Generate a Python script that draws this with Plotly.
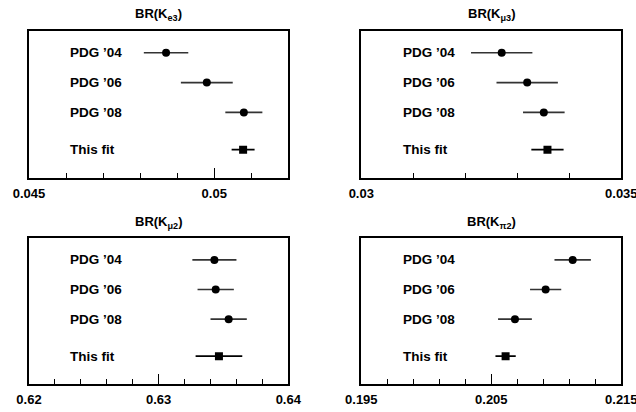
import plotly.graph_objects as go

# ---------------- data ----------------
row_labels = ["PDG ’04", "PDG ’06", "PDG ’08", "This fit"]
row_pos = [4, 3, 2, 0.75]

titles = ["BR(K<sub>e3</sub>)", "BR(K<sub>μ3</sub>)", "BR(K<sub>μ2</sub>)", "BR(K<sub>π2</sub>)"]

ke3_pdg = [0.0487, 0.0498, 0.0508]
ke3_pdg_err = [0.0006, 0.0007, 0.0005]
ke3_fit = [0.05078]
ke3_fit_err = [0.00031]

kmu3_pdg = [0.0327, 0.03319, 0.03351]
kmu3_pdg_err = [0.00059, 0.00059, 0.0004]
kmu3_fit = [0.03358]
kmu3_fit_err = [0.00031]

kmu2_pdg = [0.6343, 0.6344, 0.6354]
kmu2_pdg_err = [0.0017, 0.0014, 0.0014]
kmu2_fit = [0.63465]
kmu2_fit_err = [0.0018]

kpi2_pdg = [0.21126, 0.20918, 0.20682]
kpi2_pdg_err = [0.0014, 0.0012, 0.0013]
kpi2_fit = [0.2061]
kpi2_fit_err = [0.00078]

x_ranges = [[0.045, 0.052], [0.030, 0.035], [0.62, 0.64], [0.195, 0.215]]
tick_vals = [[0.045, 0.05], [0.03, 0.035], [0.62, 0.63, 0.64], [0.195, 0.205, 0.215]]
tick_text = [["0.045", "0.05"], ["0.03", "0.035"], ["0.62", "0.63", "0.64"], ["0.195", "0.205", "0.215"]]
minor_dt = [0.001, 0.001, 0.002, 0.002]

panels = [
    (ke3_pdg, ke3_pdg_err, ke3_fit, ke3_fit_err),
    (kmu3_pdg, kmu3_pdg_err, kmu3_fit, kmu3_fit_err),
    (kmu2_pdg, kmu2_pdg_err, kmu2_fit, kmu2_fit_err),
    (kpi2_pdg, kpi2_pdg_err, kpi2_fit, kpi2_fit_err),
]

# ---------------- layout geometry ----------------
W, H = 636, 412
x_doms = [[29 / W, 288.3 / W], [361.3 / W, 621.3 / W]]
y_doms = [[1 - 178 / H, 1 - 31 / H], [1 - 384.3 / H, 1 - 238.3 / H]]

FONT = "Liberation Sans, Arial, Helvetica, sans-serif"
ERR_COLOR = "#333333"

fig = go.Figure()
layout = dict(
    template="none",
    width=W, height=H, autosize=False,
    margin=dict(l=0, r=0, t=0, b=0, pad=0),
    paper_bgcolor="white", plot_bgcolor="white",
    showlegend=False,
    font=dict(family=FONT, color="black"),
)
annotations = []

for i, (pdg, pdg_err, fit, fit_err) in enumerate(panels):
    col = i % 2
    row = i // 2
    xa = "x" if i == 0 else f"x{i+1}"
    ya = "y" if i == 0 else f"y{i+1}"
    xkey = "xaxis" if i == 0 else f"xaxis{i+1}"
    ykey = "yaxis" if i == 0 else f"yaxis{i+1}"

    fig.add_trace(go.Scatter(
        x=pdg, y=row_pos[:3], mode="markers", xaxis=xa, yaxis=ya,
        marker=dict(symbol="circle", size=8, color="black"),
        error_x=dict(type="data", array=pdg_err, width=0, thickness=1.6, color=ERR_COLOR),
    ))
    fig.add_trace(go.Scatter(
        x=fit, y=row_pos[3:], mode="markers", xaxis=xa, yaxis=ya,
        marker=dict(symbol="square", size=8, color="black"),
        error_x=dict(type="data", array=fit_err, width=0, thickness=1.6, color="black"),
    ))

    layout[xkey] = dict(
        domain=x_doms[col], anchor=ya, range=x_ranges[i], automargin=False,
        showgrid=False, zeroline=False,
        showline=True, linecolor="black", linewidth=2, mirror=True,
        tickmode="array", tickvals=tick_vals[i], ticktext=tick_text[i],
        ticks="inside", ticklen=10, tickwidth=1.3, tickcolor="black",
        tickfont=dict(family=FONT, size=13, color="black", weight="bold"),
        ticklabeloverflow="allow", ticklabelstandoff=2,
        minor=dict(ticks="inside", ticklen=5, tickwidth=1.3, tickcolor="black",
                   tick0=x_ranges[i][0], dtick=minor_dt[i], showgrid=False),
        fixedrange=True,
    )
    layout[ykey] = dict(
        domain=y_doms[row], anchor=xa, range=[-0.2, 4.73], automargin=False,
        showgrid=False, zeroline=False, showticklabels=False, ticks="",
        showline=True, linecolor="black", linewidth=1.6, mirror=True,
        fixedrange=True,
    )

    # row labels
    x_left = x_doms[col][0] + 39.3 / W
    for lab, yp in zip(row_labels, row_pos):
        annotations.append(dict(
            text=lab, x=x_left, xref="paper", xanchor="left",
            y=yp, yref=ya, yanchor="middle", showarrow=False,
            font=dict(family=FONT, size=13.5, color="black", weight="bold"),
        ))
    # panel title
    annotations.append(dict(
        text=titles[i], x=(x_doms[col][0] + x_doms[col][1]) / 2, xref="paper", xanchor="center",
        y=y_doms[row][1] + 16 / H, yref="paper", yanchor="middle", showarrow=False,
        font=dict(family=FONT, size=13, color="black", weight="bold"),
    ))

layout["annotations"] = annotations
fig.update_layout(**layout)
fig.write_html("out.html", config={"displayModeBar": False},
               post_script="document.body.style.margin='0';")
